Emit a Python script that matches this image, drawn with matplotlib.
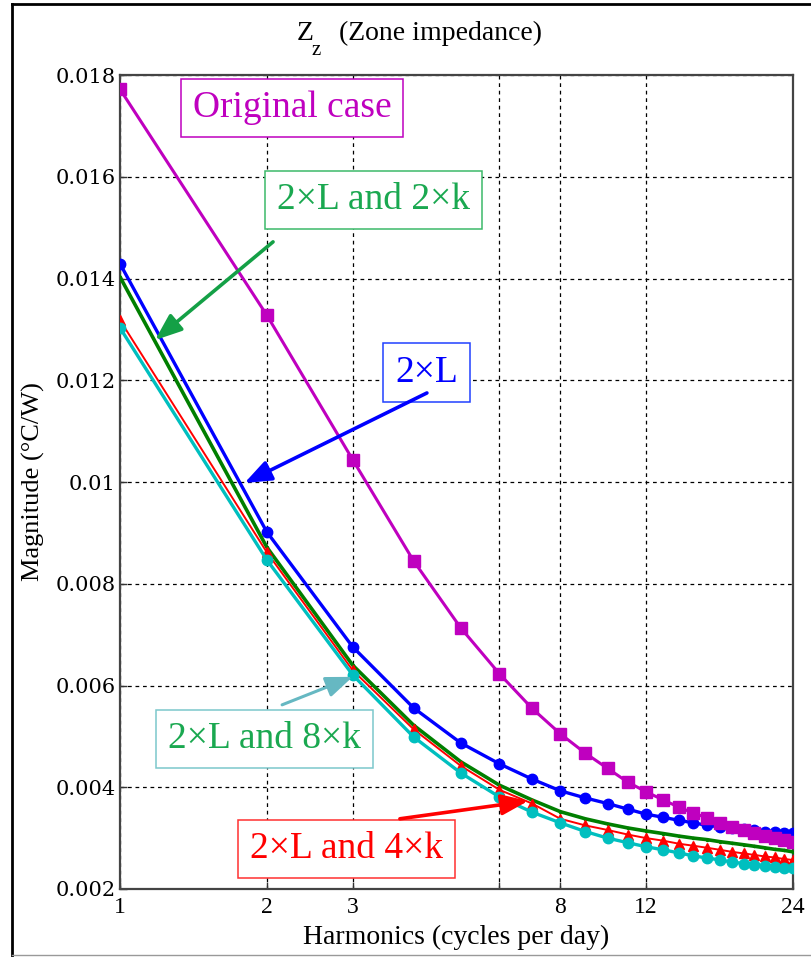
import matplotlib
matplotlib.use("Agg")
import matplotlib.pyplot as plt
from matplotlib.lines import Line2D

plt.rcParams['font.family'] = ['Liberation Serif', 'DejaVu Serif']

# Harmonic number (cycles per day)
harmonics = list(range(1, 25))

# Zone impedance magnitude (degC/W) for each case
original_case = [0.01772, 0.01328, 0.01044, 0.00845, 0.00713, 0.00623, 0.00555, 0.00505,
                 0.00467, 0.00437, 0.00410, 0.00391, 0.00375, 0.00361, 0.00349, 0.00340,
                 0.00330, 0.00322, 0.00316, 0.00310, 0.00304, 0.00300, 0.00296, 0.00292]
double_L = [0.01429, 0.00902, 0.00676, 0.00556, 0.00487, 0.00446, 0.00416, 0.00393,
            0.00379, 0.00368, 0.00357, 0.00347, 0.00341, 0.00335, 0.00330, 0.00325,
            0.00322, 0.00319, 0.00317, 0.00315, 0.00313, 0.00312, 0.00311, 0.00310]
double_L_2k = [0.01403, 0.00872, 0.00640, 0.00522, 0.00450, 0.00404, 0.00375, 0.00352,
               0.00338, 0.00328, 0.00320, 0.00314, 0.00309, 0.00304, 0.00300, 0.00297,
               0.00293, 0.00290, 0.00287, 0.00284, 0.00281, 0.00278, 0.00276, 0.00273]
double_L_4k = [0.01318, 0.00862, 0.00630, 0.00514, 0.00442, 0.00395, 0.00368, 0.00338,
               0.00325, 0.00316, 0.00307, 0.00300, 0.00295, 0.00289, 0.00285, 0.00281,
               0.00277, 0.00273, 0.00270, 0.00267, 0.00264, 0.00262, 0.00259, 0.00257]
double_L_8k = [0.01303, 0.00847, 0.00621, 0.00499, 0.00428, 0.00381, 0.00351, 0.00330,
               0.00313, 0.00300, 0.00291, 0.00283, 0.00277, 0.00271, 0.00265, 0.00261,
               0.00257, 0.00253, 0.00250, 0.00248, 0.00246, 0.00244, 0.00242, 0.00241]

x_ticks = [1, 2, 3, 6, 8, 12, 24]
x_tick_labels = ['1', '2', '3', '', '8', '12', '24']
y_ticks = [0.002, 0.004, 0.006, 0.008, 0.010, 0.012, 0.014, 0.016, 0.018]
y_tick_labels = ['0.002', '0.004', '0.006', '0.008', '0.01', '0.012', '0.014', '0.016', '0.018']

W, H = 811, 957
fig = plt.figure(figsize=(W / 100, H / 100), dpi=100)
ax = fig.add_axes([120 / W, 1 - 889 / H, (793 - 120) / W, (889 - 75) / H])

MAG = '#bf00bf'
CYA = '#00bfbf'

ax.plot(harmonics, double_L, color='#0000ff', lw=2.4, marker='o', ms=7.5, mec='#0000ff', zorder=3)
ax.plot(harmonics, original_case, color=MAG, lw=2.2, marker='s', ms=8, mec=MAG, zorder=4)
ax.plot(harmonics, double_L_2k, color='#007f00', lw=2.6, marker='.', ms=3, zorder=3)
ax.plot(harmonics, double_L_4k, color='#ff0000', lw=1.4, marker='^', ms=6.5, mec='#ff0000', zorder=3)
ax.plot(harmonics, double_L_8k, color=CYA, lw=2.4, marker='o', ms=7.5, mec=CYA, zorder=3)

ax.set_xscale('log')
ax.set_xlim(1, 24)
ax.set_ylim(0.002, 0.018)
ax.set_xticks(x_ticks)
ax.set_xticklabels(x_tick_labels, fontsize=17)
ax.minorticks_off()
ax.set_yticks(y_ticks)
ax.set_yticklabels(y_tick_labels, fontsize=15, family=['DejaVu Serif'])
ax.tick_params(direction='in', length=5, width=1, color='#333333', pad=3)
ax.tick_params(axis='x', pad=6)
ax.grid(True, color='black', linestyle=(0, (3, 3)), lw=0.9)
for sp in ax.spines.values():
    sp.set_color('#444444')
    sp.set_linewidth(1.6)

ax.set_xlabel('Harmonics (cycles per day)', fontsize=20, labelpad=5)
ax.set_ylabel('Magnitude (\u00b0C/W)', fontsize=19, labelpad=8)

# Title: Z with a lowered subscript z
fig.text(297 / W, 1 - 40 / H, 'Z', fontsize=20, ha='left', va='baseline')
fig.text(312 / W, 1 - 41 / H, 'z', fontsize=15, ha='left', va='top')
fig.text(339 / W, 1 - 40 / H, '(Zone impedance)', fontsize=20, ha='left', va='baseline')

# Case labels with leader arrows
def case_label(text, xy_frac, tcolor, ecolor):
    ax.text(xy_frac[0], xy_frac[1], text, transform=ax.transAxes, fontsize=27,
            color=tcolor, ha='center', va='center', zorder=6,
            bbox=dict(boxstyle='square,pad=0.32', fc='white', ec=ecolor, lw=1.1))

def leader(tail, tip, color, lw=2.6):
    ax.annotate('', xy=tip, xytext=tail, zorder=7,
                arrowprops=dict(arrowstyle='-|>,head_length=0.9,head_width=0.35',
                                color=color, lw=lw, mutation_scale=18,
                                shrinkA=0, shrinkB=0))

case_label('Original case', (0.2556, 0.9595), MAG, MAG)
case_label('2\u00d7L and 2\u00d7k', (0.3774, 0.8464), '#1aa850', '#3cb96a')
case_label('2\u00d7L', (0.4554, 0.6345), '#0000ff', '#2040ff')
case_label('2\u00d7L and 8\u00d7k', (0.2147, 0.1843), '#1aa850', '#7cc8cc')
case_label('2\u00d7L and 4\u00d7k', (0.3366, 0.0491), '#ff0000', '#ff3030')

leader((2.06, 0.01472), (1.18, 0.01279), '#14a046')
leader((4.26, 0.01175), (1.80, 0.00998), '#0000ff')
leader((2.15, 0.00562), (3.00, 0.00617), '#66b8c2', lw=2.2)
leader((3.75, 0.00338), (6.87, 0.00373), '#ff0000')

# Outer frame
fig.add_artist(Line2D([12 / W, 12 / W], [0, 1 - 4 / H], color='black', lw=2))
fig.add_artist(Line2D([12 / W, 1], [1 - 4 / H, 1 - 4 / H], color='black', lw=2))
fig.add_artist(Line2D([12 / W, 1], [1 - 955 / H, 1 - 955 / H], color='#999999', lw=1))

fig.savefig('out.png', dpi=100)
